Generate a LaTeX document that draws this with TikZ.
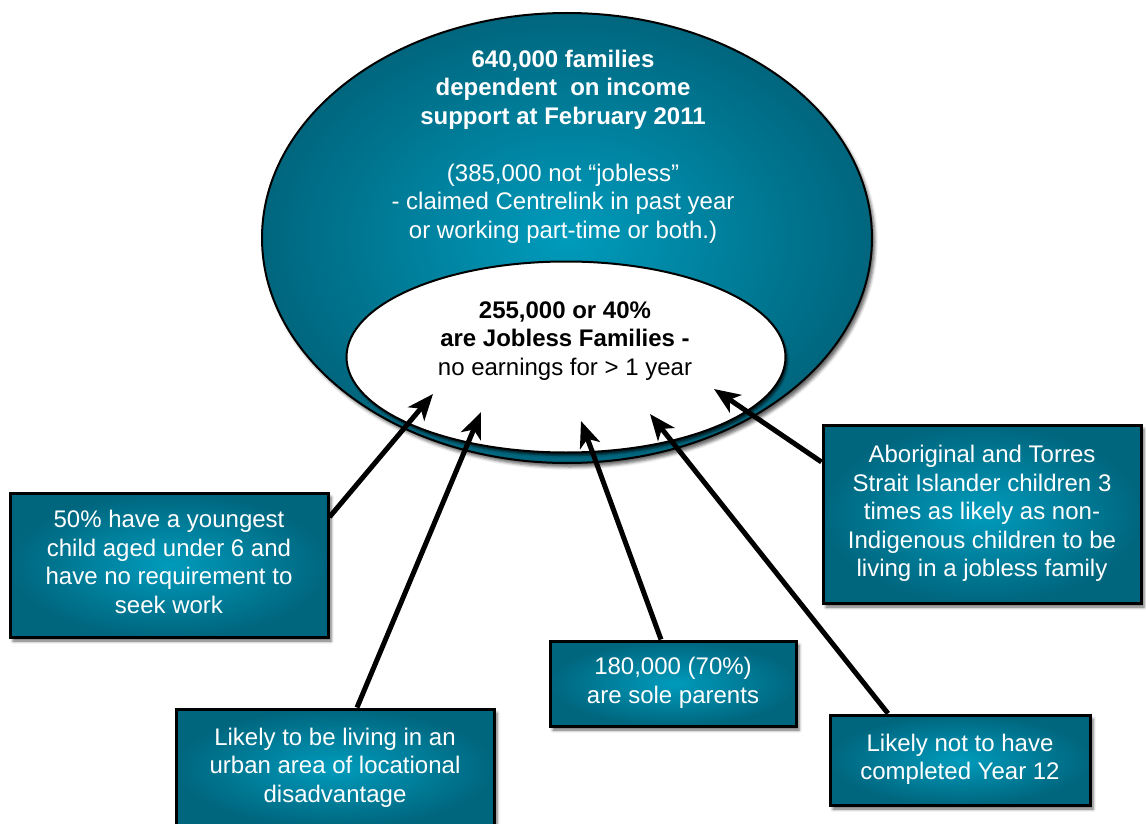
\documentclass[tikz,border=0pt]{standalone}
\usepackage{fontspec}
\setmainfont{Liberation Sans}
\usetikzlibrary{shapes.geometric,arrows.meta,shadows.blur}
\definecolor{tealin}{RGB}{0,155,188}
\definecolor{tealout}{RGB}{0,102,126}
\begin{document}
\begin{tikzpicture}[x=1pt,y=-1pt,
  txt/.style={font=\fontsize{24}{28.5}\selectfont, align=center},
  tealshade/.style={inner color=tealin, outer color=tealout},
  shad/.style={blur shadow={shadow xshift=3pt,shadow yshift=-4pt,shadow blur radius=3pt,shadow opacity=60}},
  infobox/.style={rectangle, draw=black, line width=3pt, tealshade, shad, txt, text=white, inner sep=0pt},
  arr/.style={line width=5pt, -{Stealth[length=26pt,width=21pt,inset=7pt]}}
]
\useasboundingbox (0,0) rectangle (1146,824);
\clip (0,0) rectangle (1146,824);

% ellipses
\node[ellipse, minimum width=610pt, minimum height=450pt, draw=black, line width=2pt, tealshade, shad] (outer) at (567,238) {};
\node[ellipse, minimum width=439pt, minimum height=191pt, draw=black, line width=2pt, fill=white,
  blur shadow={shadow xshift=2pt,shadow yshift=-3pt,shadow blur radius=2pt,shadow opacity=70}] (inner) at (566,357) {};

\node[txt, text=white] (outtxt) at (563,146.8) {\strut\textbf{640,000 families}\\
\strut\textbf{dependent\ \ on income}\\
\strut\textbf{support at February 2011}\\[28.5pt]
\strut(385,000 not “jobless”\\
\strut- claimed Centrelink in past year\\
\strut or working part-time or both.)};

\node[txt, text=black] (intxt) at (565,340.8) {\strut\textbf{255,000 or 40\%}\\
\strut\textbf{are Jobless Families -}\\
\strut no earnings for > 1 year};

% boxes
\node[infobox, minimum width=318pt, minimum height=144pt] (b1) at (169,565)
  {\strut 50\% have a youngest\\ \strut child aged under 6 and\\ \strut have no requirement to\\ \strut seek work};
\node[infobox, minimum width=318pt, minimum height=118pt] (b2) at (335,768)
  {\strut Likely to be living in an\\ \strut urban area of locational\\ \strut disadvantage};
\node[infobox, minimum width=246pt, minimum height=85pt] (b3) at (673,683.5)
  {\strut 180,000 (70\%)\\ \strut are sole parents};
\node[infobox, minimum width=260pt, minimum height=90pt] (b4) at (960,760)
  {\strut Likely not to have\\ \strut completed Year 12};
\node[infobox, minimum width=318pt, minimum height=178pt] (b5) at (982,514)
  {\strut Aboriginal and Torres\\ \strut Strait Islander children 3\\ \strut times as likely as non-\\ \strut Indigenous children to be\\ \strut living in a jobless family};

% arrow targets
\coordinate (t1) at (433,394);
\coordinate (t2) at (481,412);
\coordinate (t3) at (581,421);
\coordinate (t4) at (650,414);
\coordinate (t5) at (714,389);

\draw[arr] ([yshift=48pt]b1.east) -- (t1);
\draw[arr] ([xshift=22pt]b2.north) -- (t2);
\draw[arr] ([xshift=-12pt]b3.north) -- (t3);
\draw[arr] ([xshift=-72pt]b4.north) -- (t4);
\draw[arr] ([yshift=52pt]b5.west) -- (t5);
\end{tikzpicture}
\end{document}
